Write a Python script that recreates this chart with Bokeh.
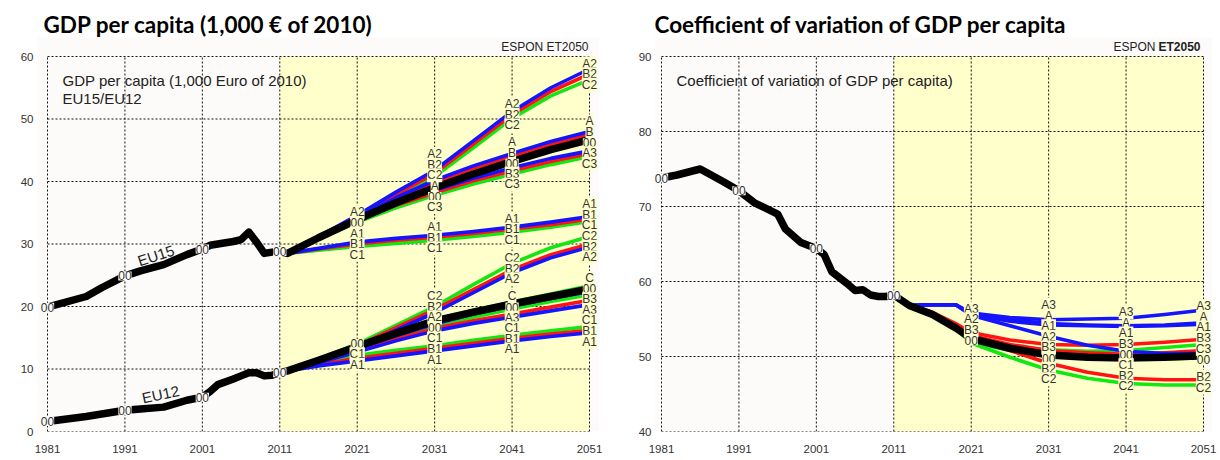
import numpy as np
from bokeh.plotting import figure
from bokeh.models import Range1d, BoxAnnotation, Label, LabelSet, ColumnDataSource
from bokeh.layouts import row
from bokeh.embed import file_html
from bokeh.resources import INLINE
from bokeh.core.properties import value

# ---------------- data ----------------
X_TICKS = [1981, 1991, 2001, 2011, 2021, 2031, 2041, 2051]
LEFT_Y_TICKS = [0, 10, 20, 30, 40, 50, 60]
RIGHT_Y_TICKS = [40, 50, 60, 70, 80, 90]
DECADES = [2021, 2031, 2041, 2051]
HIST_LABEL_YEARS = [1981, 1991, 2001, 2011]

# historical GDP per capita (1,000 EUR of 2010)
HIST_YEARS_L = [1981, 1986, 1988, 1991, 1993, 1996, 1999, 2001, 2002, 2003, 2005, 2006, 2007, 2008, 2009, 2010, 2011]
EU15_HIST = [19.9, 21.6, 23.0, 24.9, 25.7, 26.7, 28.3, 29.2, 29.8, 30.0, 30.4, 30.7, 31.9, 30.3, 28.5, 28.7, 28.8]
EU12_HIST = [1.6, 2.4, 2.8, 3.4, 3.6, 3.9, 5.0, 5.5, 6.4, 7.5, 8.4, 8.9, 9.4, 9.4, 8.9, 9.0, 9.4]

# projections, GDP per capita
PROJ_YEARS_L = [2011, 2012, 2016, 2021, 2026, 2031, 2036, 2041, 2046, 2051]
EU15_00 = [28.8, 28.5, 31.0, 33.9, 36.6, 39.0, 41.2, 43.2, 45.1, 46.7]
EU15_A = [28.8, 28.5, 31.1, 34.3, 37.4, 40.2, 42.5, 44.5, 46.4, 48.0]
EU15_B = [28.8, 28.5, 31.0, 34.1, 37.1, 39.8, 42.1, 44.0, 45.9, 47.5]
EU15_C = [28.8, 28.5, 30.9, 33.8, 36.4, 38.8, 41.0, 43.0, 44.9, 46.5]
EU15_A1 = [28.8, 28.5, 29.3, 30.3, 30.9, 31.4, 32.0, 32.7, 33.5, 34.4]
EU15_B1 = [28.8, 28.5, 29.2, 30.0, 30.6, 31.1, 31.7, 32.4, 33.1, 34.0]
EU15_C1 = [28.8, 28.5, 29.0, 29.6, 30.1, 30.6, 31.2, 31.9, 32.7, 33.6]
EU15_A2 = [28.8, 28.5, 31.2, 34.6, 38.3, 41.8, 46.5, 51.2, 55.0, 58.0]
EU15_B2 = [28.8, 28.5, 31.1, 34.3, 37.9, 41.3, 46.0, 50.7, 54.4, 57.2]
EU15_C2 = [28.8, 28.5, 31.0, 34.0, 37.4, 40.8, 45.4, 50.1, 53.7, 56.3]
EU15_A3 = [28.8, 28.5, 31.0, 34.0, 36.5, 38.6, 40.5, 42.2, 43.7, 44.9]
EU15_B3 = [28.8, 28.5, 30.9, 33.8, 36.2, 38.2, 40.1, 41.7, 43.2, 44.5]
EU15_C3 = [28.8, 28.5, 30.8, 33.5, 35.8, 37.8, 39.6, 41.2, 42.7, 44.0]

EU12_00 = [9.4, 9.7, 11.4, 13.6, 15.7, 17.7, 19.1, 20.4, 21.6, 22.8]
EU12_A = [9.4, 9.7, 11.2, 13.2, 15.3, 17.2, 18.8, 20.1, 21.3, 22.4]
EU12_B = [9.4, 9.7, 11.3, 13.4, 15.5, 17.5, 19.0, 20.3, 21.5, 22.7]
EU12_C = [9.4, 9.7, 11.4, 13.6, 15.8, 17.9, 19.4, 20.7, 22.0, 23.3]
EU12_A1 = [9.4, 9.7, 10.5, 11.3, 12.1, 12.9, 13.7, 14.5, 15.2, 15.8]
EU12_B1 = [9.4, 9.7, 10.7, 11.7, 12.5, 13.3, 14.1, 14.9, 15.6, 16.2]
EU12_C1 = [9.4, 9.7, 10.9, 12.2, 13.0, 13.7, 14.6, 15.4, 16.1, 16.8]
EU12_A2 = [9.4, 9.7, 11.4, 13.5, 16.2, 19.0, 22.2, 25.4, 27.8, 29.5]
EU12_B2 = [9.4, 9.7, 11.5, 13.7, 16.6, 19.5, 22.7, 25.9, 28.3, 30.0]
EU12_C2 = [9.4, 9.7, 11.6, 14.0, 17.0, 20.0, 23.5, 26.9, 29.4, 31.2]
EU12_A3 = [9.4, 9.7, 11.0, 12.7, 14.5, 16.1, 17.3, 18.3, 19.3, 20.3]
EU12_B3 = [9.4, 9.7, 11.1, 12.9, 14.8, 16.5, 17.7, 18.8, 19.9, 21.0]
EU12_C3 = [9.4, 9.7, 11.3, 13.3, 15.2, 16.9, 18.3, 19.6, 20.8, 21.9]

# coefficient of variation of GDP per capita
HIST_YEARS_R = [1981, 1983, 1986, 1989, 1991, 1993, 1996, 1997, 1999, 2001, 2002, 2003, 2005, 2006, 2007, 2008, 2009, 2010, 2011]
CV_HIST = [73.8, 74.2, 75.0, 73.3, 72.1, 70.5, 69.0, 67.0, 65.2, 64.4, 63.6, 61.3, 59.7, 58.8, 58.9, 58.2, 58.0, 58.0, 58.2]

PROJ_YEARS_R = [2011, 2013, 2016, 2019, 2021, 2026, 2031, 2036, 2041, 2046, 2051]
CV_00 = [58.2, 56.8, 55.6, 53.8, 52.4, 51.1, 50.2, 49.9, 49.8, 49.9, 50.1]
CV_A = [58.2, 56.8, 56.9, 56.9, 55.8, 54.9, 54.4, 54.2, 54.1, 54.2, 54.5]
CV_B = [58.2, 56.8, 55.8, 54.2, 52.8, 51.6, 50.8, 50.5, 50.3, 50.5, 50.8]
CV_C = [58.2, 56.8, 55.6, 53.7, 51.9, 50.9, 50.3, 50.0, 49.8, 49.9, 50.0]
CV_A1 = [58.2, 56.8, 56.9, 56.9, 55.6, 54.7, 54.2, 54.1, 54.0, 54.1, 54.3]
CV_B1 = [58.2, 56.8, 55.8, 54.1, 52.7, 51.4, 50.6, 50.3, 50.2, 50.3, 50.5]
CV_C1 = [58.2, 56.8, 55.6, 53.7, 51.9, 50.8, 50.1, 49.8, 49.6, 49.7, 49.8]
CV_A2 = [58.2, 56.8, 56.9, 56.9, 55.5, 54.1, 52.7, 51.5, 50.7, 50.4, 50.4]
CV_B2 = [58.2, 56.8, 55.8, 54.1, 52.7, 50.8, 49.1, 47.9, 47.1, 46.9, 46.9]
CV_C2 = [58.2, 56.8, 55.6, 53.7, 51.8, 49.9, 48.2, 47.1, 46.4, 46.2, 46.2]
CV_A3 = [58.2, 56.8, 56.9, 56.9, 55.8, 55.2, 54.9, 55.0, 55.1, 55.6, 56.2]
CV_B3 = [58.2, 56.8, 55.9, 54.4, 53.2, 52.2, 51.6, 51.5, 51.6, 51.9, 52.3]
CV_C3 = [58.2, 56.8, 55.6, 53.8, 52.0, 51.3, 50.9, 50.7, 50.8, 51.2, 51.6]

# scenario labels shown at each decade (top to bottom)
EU15_LABELS = {2021: ["A2", "00", "A1", "B1", "C1"],
               2031: ["A2", "B2", "C2", "A", "00", "C3", "A1", "B1", "C1"],
               2041: ["A2", "B2", "C2", "A", "B", "00", "B3", "C3", "A1", "B1", "C1"],
               2051: ["A2", "B2", "C2", "A", "B", "00", "A3", "C3", "A1", "B1", "C1"]}
EU12_LABELS = {2021: ["00", "C1", "A1"],
               2031: ["C2", "B2", "A2", "00", "C1", "B1", "A1"],
               2041: ["C2", "B2", "A2", "C", "00", "A3", "C1", "B1", "A1"],
               2051: ["C2", "B2", "A2", "C", "00", "B3", "A3", "C1", "B1", "A1"]}
CV_LABELS = {2021: ["A3", "A2", "B3", "00"],
             2031: ["A3", "A", "A1", "A2", "B3", "00", "B2", "C2"],
             2041: ["A3", "A", "A1", "B3", "00", "C1", "B2", "C2"],
             2051: ["A3", "A", "A1", "B3", "C3", "00", "B2", "C2"]}

EU15_PROJ = {"A": EU15_A, "B": EU15_B, "C": EU15_C, "A1": EU15_A1, "B1": EU15_B1, "C1": EU15_C1,
             "A2": EU15_A2, "B2": EU15_B2, "C2": EU15_C2, "A3": EU15_A3, "B3": EU15_B3, "C3": EU15_C3, "00": EU15_00}
EU12_PROJ = {"A": EU12_A, "B": EU12_B, "C": EU12_C, "A1": EU12_A1, "B1": EU12_B1, "C1": EU12_C1,
             "A2": EU12_A2, "B2": EU12_B2, "C2": EU12_C2, "A3": EU12_A3, "B3": EU12_B3, "C3": EU12_C3, "00": EU12_00}
CV_PROJ = {"A": CV_A, "B": CV_B, "C": CV_C, "A1": CV_A1, "B1": CV_B1, "C1": CV_C1,
           "A2": CV_A2, "B2": CV_B2, "C2": CV_C2, "A3": CV_A3, "B3": CV_B3, "C3": CV_C3, "00": CV_00}

# ---------------- style / geometry ----------------
COLORS = {"A": "#1414ff", "B": "#ff1414", "C": "#14e614"}
YELLOW = "#ffffcc"
PANEL_BG = "#fcfbf9"
TXT = "#333333"
GRID_W = 542          # px between 1981 and 2051
GRID_H = 375          # px between lowest and highest y tick
FRAME_H = 431         # frame runs from the top of the figure to the bottom grid line
PANEL_TOP = 394       # px above the bottom grid line where the light panel starts
FIG_H = 460
LABEL_GAP_PX = 10.6


def make_fig(width, border_l, border_r, ext_l, ext_r, g_lo, g_hi, y_ticks, y_standoff):
    ppy = GRID_W / 70.0
    ppu = GRID_H / float(g_hi - g_lo)
    p = figure(width=width, height=FIG_H, output_backend="svg", toolbar_location=None, title=None,
               x_range=Range1d(1981 - ext_l / ppy, 2051 + ext_r / ppy),
               y_range=Range1d(g_lo, g_lo + FRAME_H / ppu),
               min_border_left=border_l, min_border_right=border_r,
               min_border_top=0, min_border_bottom=FIG_H - FRAME_H)
    p.background_fill_color = "white"
    p.border_fill_color = "white"
    p.outline_line_color = None
    p.xgrid.visible = False
    p.ygrid.visible = False
    p.xaxis.ticker = X_TICKS
    p.yaxis.ticker = y_ticks
    for ax in (p.xaxis[0], p.yaxis[0]):
        ax.axis_line_color = None
        ax.major_tick_line_color = None
        ax.minor_tick_line_color = None
        ax.major_tick_out = 0
        ax.major_tick_in = 0
        ax.major_label_text_font = "Liberation Sans"
        ax.major_label_text_font_size = "11.5px"
        ax.major_label_text_color = TXT
    p.xaxis[0].major_label_standoff = 13
    p.yaxis[0].major_label_standoff = y_standoff
    # light panel and projection period shading
    p.add_layout(BoxAnnotation(top=g_lo + PANEL_TOP / ppu, fill_color=PANEL_BG, fill_alpha=1,
                               line_color=None, level="image"))
    p.add_layout(BoxAnnotation(left=2011, right=2051, bottom=g_lo, top=g_hi, fill_color=YELLOW,
                               fill_alpha=1, line_color=None, level="image"))
    # dotted grid (including the border)
    p.segment(x0=X_TICKS, y0=[g_lo] * len(X_TICKS), x1=X_TICKS, y1=[g_hi] * len(X_TICKS),
              line_color="#111111", line_dash="2 2", line_width=1)
    p.segment(x0=[1981] * len(y_ticks), y0=y_ticks, x1=[2051] * len(y_ticks), y1=y_ticks,
              line_color="#111111", line_dash="2 2", line_width=1)
    return p, ppu


def spread(targets, gap):
    clusters = [[i] for i in range(len(targets))]

    def top_of(cl):
        return np.mean([targets[i] for i in cl]) + gap * (len(cl) - 1) / 2.0

    changed = True
    while changed:
        changed = False
        merged = [clusters[0]]
        for cl in clusters[1:]:
            prev = merged[-1]
            prev_bottom = top_of(prev) - gap * (len(prev) - 1)
            if prev_bottom - top_of(cl) < gap - 1e-9:
                merged[-1] = prev + cl
                changed = True
            else:
                merged.append(cl)
        clusters = merged
    pos = [0.0] * len(targets)
    for cl in clusters:
        t = top_of(cl)
        for k, i in enumerate(cl):
            pos[i] = t - gap * k
    return pos


def add_labels(p, xs, ys, texts, bg):
    src = ColumnDataSource(dict(x=xs, y=ys, t=texts))
    p.add_layout(LabelSet(x="x", y="y", text="t", source=src, text_align="center",
                          text_baseline="middle", text_font=value("Liberation Sans"),
                          text_font_size="12px", text_color=TXT,
                          background_fill_color=bg, background_fill_alpha=1))


def draw_scenarios(p, years, proj):
    for prefix in ["C", "B", "A"]:
        for name, vals in proj.items():
            if name.startswith(prefix):
                p.line(years, vals, line_color=COLORS[prefix], line_width=3.6, line_join="round")
    p.line(years, proj["00"], line_color="black", line_width=7.5, line_join="round")


def decade_labels(p, groups, gap):
    for d in DECADES:
        names, targets = [], []
        for years, proj, labels in groups:
            for nm in labels[d]:
                names.append(nm)
                targets.append(float(np.interp(d, years, proj[nm])))
        ys = spread(targets, gap)
        add_labels(p, [d] * len(names), ys, names, YELLOW)


def screen_label(p, x, y, text, size, align="left", bold=False, font="Liberation Sans", color="#222222"):
    p.add_layout(Label(x=x, y=y, x_units="screen", y_units="screen", text=text, text_font=font,
                       text_font_size=size, text_font_style="bold" if bold else "normal",
                       text_color=color, text_align=align, text_baseline="middle"))


# ---------------- left chart ----------------
p1, ppu1 = make_fig(608, 37, 9, 10, 10, 0, 60, LEFT_Y_TICKS, 4)
screen_label(p1, 6, 407, "GDP per capita (1,000 € of 2010)", "22.5px", bold=True, font="Lato", color="black")
screen_label(p1, 551, 385, "ESPON ET2050", "12px", align="right")
screen_label(p1, 25, 351, "GDP per capita (1,000 Euro of 2010)", "15px")
screen_label(p1, 25, 333, "EU15/EU12", "15px")

draw_scenarios(p1, PROJ_YEARS_L, EU15_PROJ)
draw_scenarios(p1, PROJ_YEARS_L, EU12_PROJ)
p1.line(HIST_YEARS_L, EU15_HIST, line_color="black", line_width=7.5, line_join="round")
p1.line(HIST_YEARS_L, EU12_HIST, line_color="black", line_width=7.5, line_join="round")

decade_labels(p1, [(PROJ_YEARS_L, EU15_PROJ, EU15_LABELS), (PROJ_YEARS_L, EU12_PROJ, EU12_LABELS)],
              LABEL_GAP_PX / ppu1)
for hist in (EU15_HIST, EU12_HIST):
    hy = [float(np.interp(y, HIST_YEARS_L, hist)) for y in HIST_LABEL_YEARS]
    add_labels(p1, HIST_LABEL_YEARS, hy, ["00"] * 4, PANEL_BG)

p1.add_layout(Label(x=1995.0, y=float(np.interp(1995.0, HIST_YEARS_L, EU15_HIST)) + 1.8,
                    text="EU15", angle=18, angle_units="deg", text_font="Liberation Sans",
                    text_font_size="15px", text_color="#222222", text_align="center",
                    text_baseline="middle"))
p1.add_layout(Label(x=1995.6, y=float(np.interp(1995.6, HIST_YEARS_L, EU12_HIST)) + 2.1,
                    text="EU12", angle=12, angle_units="deg", text_font="Liberation Sans",
                    text_font_size="15px", text_color="#222222", text_align="center",
                    text_baseline="middle"))

# ---------------- right chart ----------------
p2, ppu2 = make_fig(612, 46, 8, 7, 9, 40, 90, RIGHT_Y_TICKS, 3)
screen_label(p2, 0, 407, "Coefficient of variation of GDP per capita", "22.5px", bold=True, font="Lato", color="black")
screen_label(p2, 546, 385, "ET2050", "12px", align="right", bold=True)
screen_label(p2, 546 - 45, 385, "ESPON", "12px", align="right")
screen_label(p2, 22, 351, "Coefficient of variation of GDP per capita)", "15px")

draw_scenarios(p2, PROJ_YEARS_R, CV_PROJ)
p2.line(HIST_YEARS_R, CV_HIST, line_color="black", line_width=7.5, line_join="round")

decade_labels(p2, [(PROJ_YEARS_R, CV_PROJ, CV_LABELS)], LABEL_GAP_PX / ppu2)
hy = [float(np.interp(y, HIST_YEARS_R, CV_HIST)) for y in HIST_LABEL_YEARS]
add_labels(p2, HIST_LABEL_YEARS, hy, ["00"] * 4, PANEL_BG)

layout = row(p1, p2)
open("out.html", "w").write(file_html(layout, INLINE))
